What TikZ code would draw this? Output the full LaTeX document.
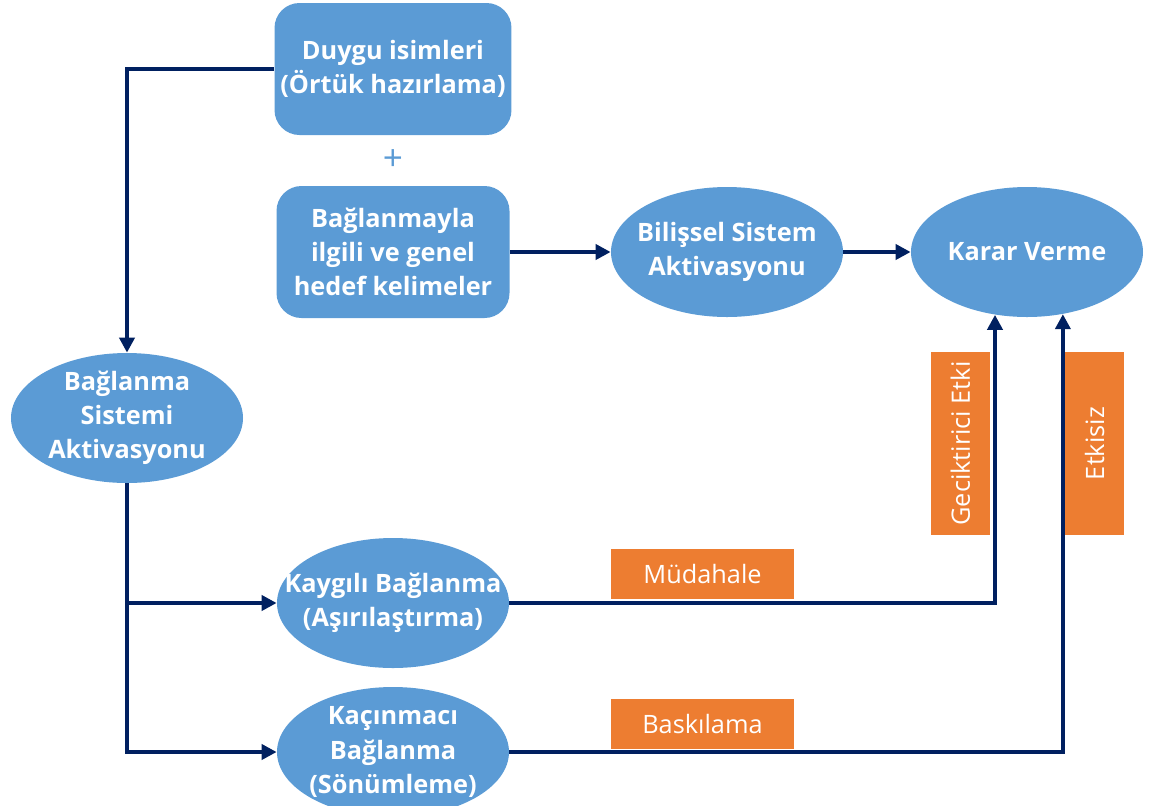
\documentclass[tikz,border=0pt]{standalone}
\usepackage{fontspec}
\setmainfont{Open Sans}
\usetikzlibrary{shapes.geometric,arrows.meta}
\definecolor{boxblue}{HTML}{5B9BD5}
\definecolor{linenavy}{HTML}{002060}
\definecolor{tagorange}{HTML}{ED7D31}
\begin{document}
\begin{tikzpicture}[font=\fontsize{14.4}{19.5}\selectfont,
  rbox/.style={fill=boxblue, rounded corners=0.5cm, minimum width=4.66cm, minimum height=2.64cm, align=center, text=white, font=\fontsize{14.4}{19.5}\selectfont\bfseries},
  ell/.style={ellipse, fill=boxblue, minimum width=4.64cm, minimum height=2.6cm, inner xsep=-0.6cm, inner ysep=-0.3cm, align=center, text=white, font=\fontsize{14.4}{19.5}\selectfont\bfseries},
  tag/.style={fill=tagorange, text=white, inner sep=0pt},
  link/.style={draw=linenavy, line width=2.3pt, -{Triangle[length=0.3cm, width=0.3cm]}}]
  \useasboundingbox (0,0) rectangle (23.2,-16.1);
  % upper row
  \node[rbox] (duygu) at (7.86,-1.38) {Duygu isimleri\\(Örtük hazırlama)};
  \node[text=boxblue, font=\fontsize{20}{20}\selectfont] (plus) at (7.86,-3.2) {+};
  \node[rbox] (hedef) at (7.86,-5.04) {Bağlanmayla\\ilgili ve genel\\hedef kelimeler};
  \node[ell] (bilis) at (14.54,-5.04) {Bilişsel Sistem\\Aktivasyonu};
  \node[ell] (karar) at (20.54,-5.04) {Karar Verme};
  % left and bottom
  \node[ell] (baglanma) at (2.54,-8.36) {Bağlanma\\Sistemi\\Aktivasyonu};
  \node[ell] (kaygili) at (7.86,-12.06) {Kaygılı Bağlanma\\(Aşırılaştırma)};
  \node[ell] (kacinmaci) at (7.86,-15.04) {Kaçınmacı\\Bağlanma\\(Sönümleme)};
  % orange labels
  \node[tag, minimum width=3.66cm, minimum height=1.18cm, rotate=90] (gecik) at (19.21,-8.87) {Geciktirici Etki};
  \node[tag, minimum width=3.66cm, minimum height=1.18cm, rotate=90] (etkisiz) at (21.89,-8.87) {Etkisiz};
  \node[tag, minimum width=3.66cm, minimum height=1.0cm] (mudahale) at (14.05,-11.48) {Müdahale};
  \node[tag, minimum width=3.66cm, minimum height=1.0cm] (baski) at (14.05,-14.48) {Baskılama};
  % connectors
  \draw[link] (duygu.west) -| (baglanma.north);
  \draw[link] (hedef.east) -- (bilis.west);
  \draw[link] (bilis.east) -- (karar.west);
  \draw[link] (baglanma.south) |- (kacinmaci.west);
  \draw[link] (baglanma.south |- kaygili.west) -- (kaygili.west);
  \draw[link] (kaygili.east) -| (karar.-117);
  \draw[link] (kacinmaci.east) -| (karar.-60.5);
\end{tikzpicture}
\end{document}
